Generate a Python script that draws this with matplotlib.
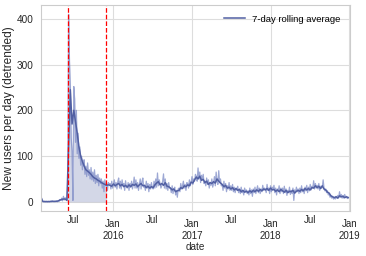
import numpy as np
import pandas as pd
import matplotlib
matplotlib.use("Agg")
import matplotlib.pyplot as plt
import matplotlib.dates as mdates

# raw detrended new users per day, sampled every 4 days from 2015-02-01
raw_values = [
    15, 2, 1, 0, 1, 0, 1, 0, 0, 1,
    0, 1, 0, 2, 0, 1, 0, 1, 2, 0,
    2, 1, 5, 3, 8, 2, 12, 4, 9, 6,
    4, 35, 410, 310, 248, 140, 110, 3, 252, 225,
    130, 200, 105, 150, 95, 120, 80, 100, 70, 88,
    92, 60, 78, 55, 85, 58, 70, 50, 75, 48,
    65, 45, 70, 40, 58, 42, 60, 35, 52, 40,
    50, 30, 45, 22, 48, 35, 40, 25, 42, 38,
    40, 28, 45, 30, 38, 48, 32, 42, 28, 44,
    52, 30, 45, 28, 48, 35, 40, 25, 46, 32,
    30, 42, 25, 40, 32, 45, 28, 38, 54, 30,
    48, 30, 42, 25, 38, 50, 28, 44, 52, 32,
    35, 25, 45, 30, 40, 22, 38, 28, 42, 30,
    28, 45, 30, 50, 32, 63, 35, 48, 40, 30,
    35, 45, 61, 30, 50, 28, 40, 25, 42, 30,
    30, 20, 35, 18, 28, 32, 15, 25, 10, 28,
    30, 22, 40, 28, 35, 45, 30, 38, 25, 42,
    40, 30, 48, 35, 42, 55, 38, 50, 45, 60,
    55, 45, 74, 50, 65, 42, 58, 48, 60, 40,
    45, 35, 52, 38, 48, 30, 42, 36, 50, 32,
    40, 55, 35, 65, 45, 38, 68, 42, 50, 35,
    38, 25, 45, 30, 40, 22, 35, 28, 42, 25,
    35, 25, 38, 22, 32, 20, 30, 26, 34, 20,
    28, 18, 32, 20, 25, 15, 30, 22, 26, 18,
    24, 15, 30, 18, 26, 12, 28, 20, 32, 18,
    26, 35, 20, 30, 18, 28, 22, 36, 25, 30,
    28, 20, 38, 25, 30, 18, 35, 22, 32, 26,
    36, 20, 30, 15, 28, 24, 35, 18, 30, 22,
    30, 18, 34, 20, 28, 14, 25, 20, 32, 16,
    25, 18, 30, 3, 26, 20, 32, 22, 28, 18,
    30, 20, 35, 22, 28, 18, 32, 24, 36, 20,
    32, 24, 38, 26, 34, 30, 46, 28, 40, 30,
    36, 28, 40, 25, 34, 30, 32, 48, 30, 24,
    28, 20, 24, 15, 18, 10, 14, 8, 12, 6,
    10, 6, 12, 8, 14, 9, 22, 10, 16, 8,
    14, 8, 16, 10, 12, 7, 10,
]

# 7-day rolling average, sampled every 8 days from 2015-02-01
rolling_values = [
    10, 1, 0.5, 0.5, 0.5,
    0.5, 1, 1, 1, 1,
    2, 4, 5, 6, 6,
    3, 120, 245, 170, 200,
    175, 150, 120, 100, 88,
    78, 70, 67, 64, 60,
    55, 52, 50, 47, 45,
    42, 40, 38, 36, 37,
    36, 34, 39, 35, 38,
    40, 35, 38, 33, 36,
    32, 37, 33, 38, 36,
    39, 33, 37, 40, 35,
    36, 31, 34, 30, 33,
    31, 37, 41, 44, 37,
    40, 36, 42, 34, 33,
    30, 26, 28, 22, 24,
    25, 31, 29, 35, 33,
    37, 35, 43, 41, 48,
    54, 50, 56, 47, 49,
    42, 45, 38, 42, 40,
    44, 41, 50, 45, 41,
    38, 33, 36, 30, 32,
    28, 31, 26, 29, 25,
    27, 22, 25, 21, 23,
    20, 24, 21, 25, 22,
    26, 23, 27, 24, 28,
    26, 29, 25, 30, 26,
    27, 23, 26, 22, 27,
    24, 21, 25, 20, 23,
    22, 25, 19, 23, 25,
    23, 27, 24, 29, 26,
    29, 26, 31, 30, 35,
    31, 34, 29, 35, 28,
    26, 21, 19, 13, 11,
    9, 11, 8, 13, 11,
    12, 9, 11, 9,
]

start_date = "2015-02-01"
event_dates = ["2015-06-05", "2015-12-01"]

raw = pd.Series(raw_values, index=pd.date_range(start_date, periods=len(raw_values), freq="4D"))
rolling = pd.Series(rolling_values, index=pd.date_range(start_date, periods=len(rolling_values), freq="8D"))

plt.rcParams["font.family"] = ["Liberation Sans", "DejaVu Sans"]
plt.rcParams["font.size"] = 7

color = "#5260a3"
fig = plt.figure(figsize=(3.66, 2.56), dpi=100)
ax = fig.add_axes([0.112, 0.176, 0.844, 0.804])

ax.plot(raw.index, raw.values, color="#7d8bc6", alpha=0.75, lw=0.9)
ax.plot(rolling.index, rolling.values, color=color, lw=1.1, label="7-day rolling average")

e0, e1 = pd.Timestamp(event_dates[0]), pd.Timestamp(event_dates[1])
mask = (raw.index >= e0 - pd.Timedelta(days=4)) & (raw.index <= e1 + pd.Timedelta(days=4))
ax.fill_between(raw.index[mask], 0, raw.values[mask], color=color, alpha=0.25, lw=0)
for d in event_dates:
    ax.axvline(pd.Timestamp(d), color="red", ls="--", lw=0.9)

ax.set_xlim(pd.Timestamp("2015-02-01"), pd.Timestamp("2019-01-03"))
ax.set_ylim(-20, 430)
ax.set_yticks([0, 100, 200, 300, 400])

ax.xaxis.set_major_locator(mdates.YearLocator())
ax.xaxis.set_major_formatter(mdates.DateFormatter("%b\n%Y"))
ax.xaxis.set_minor_locator(mdates.MonthLocator(bymonth=7))
ax.xaxis.set_minor_formatter(mdates.DateFormatter("%b"))
ax.tick_params(axis="x", which="major", length=0, pad=6, labelcolor="#262626", labelsize=7)
ax.tick_params(axis="x", which="minor", length=0, pad=3, labelcolor="#262626", labelsize=7)
ax.tick_params(axis="y", length=0, pad=5.5, labelcolor="#262626", labelsize=7.2)

ax.grid(True, which="major", color="#dddddd", lw=0.8)
ax.grid(False, which="minor")
ax.set_axisbelow(True)
for s in ax.spines.values():
    s.set_color("#cccccc")
    s.set_linewidth(0.8)

ax.set_ylabel("New users per day (detrended)", color="#262626", labelpad=1, fontsize=8.6)
ax.set_xlabel("date", color="#262626", labelpad=1, fontsize=7.2)
ax.legend(loc="upper right", frameon=False, fontsize=6.8, handlelength=2.2,
          borderaxespad=0.6)

fig.savefig("out.png", dpi=100)
